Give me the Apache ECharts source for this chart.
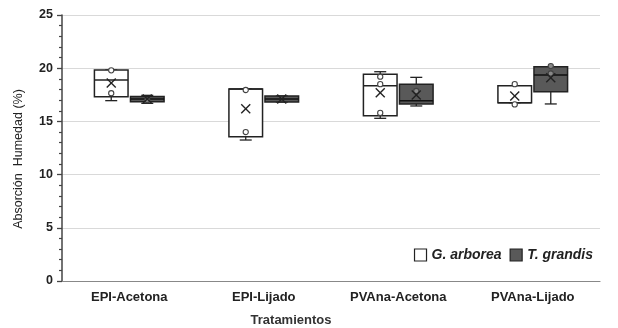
<!DOCTYPE html>
<html>
<head>
<meta charset="utf-8">
<script src="https://cdn.jsdelivr.net/npm/echarts@6/dist/echarts.min.js"></script>
<style>
html,body{margin:0;padding:0;background:#fff;}
#chart{width:618px;height:328px;}
</style>
</head>
<body>
<div id="chart"></div>
<script>
// ---- data ----
var categories = ['EPI-Acetona', 'EPI-Lijado', 'PVAna-Acetona', 'PVAna-Lijado'];
var seriesNames = ['G. arborea', 'T. grandis'];
// [min, Q1, median, Q3, max]
var arboreaBox = [
  [16.95, 17.32, 18.9, 19.83, 19.83],
  [13.25, 13.56, 18.05, 18.05, 18.05],
  [15.29, 15.54, 18.36, 19.43, 19.67],
  [16.76, 16.76, 16.76, 18.36, 18.36]
];
var arboreaMean = [18.6, 16.2, 17.7, 17.39];
var arboreaPoints = [[19.8, 17.65], [17.95, 14.0], [19.2, 18.5, 15.8], [18.5, 16.6]];

var grandisBox = [
  [16.7, 16.85, 17.1, 17.35, 17.45],
  [16.82, 16.82, 17.1, 17.39, 17.39],
  [16.45, 16.64, 16.95, 18.49, 19.14],
  [16.64, 17.79, 19.36, 20.14, 20.14]
];
var grandisMean = [17.1, 17.1, 17.48, 19.1];
var grandisPoints = [[17.0], [], [17.86], [20.2, 19.5]];

var yTicks = [0, 5, 10, 15, 20, 25];

function buildData(box, mean) {
  return box.map(function (b, i) { return [i].concat(b).concat([mean[i]]); });
}

function makeRender(offsetFrac, fill, stroke, medianColor, points, ptFill) {
  return function (params, api) {
    var ci = api.value(0);
    var band = api.size([1, 0])[0];
    var cx = api.coord([ci, 0])[0] + offsetFrac * band;
    var w = band * 0.25;
    var y = function (v) { return api.coord([ci, v])[1]; };
    var yMin = y(api.value(1)), yQ1 = y(api.value(2)), yMed = y(api.value(3)),
        yQ3 = y(api.value(4)), yMax = y(api.value(5)), yMean = y(api.value(6));
    var cap = 6;
    var lineStyle = { stroke: '#222', lineWidth: 1.3 };
    var children = [];
    children.push({ type: 'line', shape: { x1: cx, y1: yQ1, x2: cx, y2: yMin }, style: lineStyle });
    children.push({ type: 'line', shape: { x1: cx - cap, y1: yMin, x2: cx + cap, y2: yMin }, style: lineStyle });
    children.push({ type: 'line', shape: { x1: cx, y1: yQ3, x2: cx, y2: yMax }, style: lineStyle });
    children.push({ type: 'line', shape: { x1: cx - cap, y1: yMax, x2: cx + cap, y2: yMax }, style: lineStyle });
    children.push({ type: 'rect', shape: { x: cx - w / 2, y: yQ3, width: w, height: Math.max(yQ1 - yQ3, 1) },
      style: { fill: fill, stroke: stroke, lineWidth: 1.5 } });
    children.push({ type: 'line', shape: { x1: cx - w / 2, y1: yMed, x2: cx + w / 2, y2: yMed },
      style: { stroke: medianColor, lineWidth: 1.5 } });
    var pts = points[ci] || [];
    pts.forEach(function (p) {
      children.push({ type: 'circle', shape: { cx: cx, cy: y(p), r: 2.6 },
        style: { fill: ptFill, stroke: '#444', lineWidth: 1.1 } });
    });
    var m = 4.5;
    children.push({ type: 'line', shape: { x1: cx - m, y1: yMean - m, x2: cx + m, y2: yMean + m }, style: { stroke: '#222', lineWidth: 1.4 } });
    children.push({ type: 'line', shape: { x1: cx - m, y1: yMean + m, x2: cx + m, y2: yMean - m }, style: { stroke: '#222', lineWidth: 1.4 } });
    return { type: 'group', children: children };
  };
}

var chart = echarts.init(document.getElementById('chart'));
chart.setOption({
  animation: false,
  backgroundColor: '#fff',
  textStyle: { fontFamily: 'Liberation Sans, Arial, sans-serif' },
  grid: { left: 62, right: 18, top: 15, bottom: 47, containLabel: false, outerBoundsMode: 'none' },
  legend: {
    right: 20, top: 243, itemGap: 8, itemWidth: 12, itemHeight: 12,
    textStyle: { fontStyle: 'italic', fontWeight: 'bold', fontSize: 14, color: '#222', fontFamily: 'Liberation Sans, Arial, sans-serif' },
    data: [
      { name: seriesNames[0], icon: 'rect', itemStyle: { color: '#fff', borderColor: '#222', borderWidth: 1.2 } },
      { name: seriesNames[1], icon: 'rect', itemStyle: { color: '#595959', borderColor: '#222', borderWidth: 1.2 } }
    ]
  },
  xAxis: {
    type: 'category',
    data: categories,
    name: 'Tratamientos',
    nameLocation: 'middle',
    nameGap: 33,
    nameTextStyle: { fontWeight: 'bold', fontSize: 13, color: '#333', padding: [0, 80, 0, 0] },
    axisLine: { lineStyle: { color: '#888', width: 1.2 } },
    axisTick: { show: false },
    axisLabel: { fontWeight: 'bold', fontSize: 13, color: '#222', margin: 10 },
    splitLine: { show: false }
  },
  yAxis: {
    type: 'value',
    min: yTicks[0], max: yTicks[yTicks.length - 1], interval: 5,
    name: 'Absorción  Humedad (%)',
    nameLocation: 'middle',
    nameGap: 37,
    nameTextStyle: { fontSize: 12.5, color: '#222', padding: [0, 0, 0, -22] },
    axisLine: { show: true, lineStyle: { color: '#444', width: 1.5 } },
    axisTick: { show: true, length: 5, lineStyle: { color: '#444', width: 1.3 } },
    minorTick: { show: true, splitNumber: 5, length: 3, lineStyle: { color: '#444', width: 1.2 } },
    axisLabel: { fontWeight: 'bold', fontSize: 12.5, color: '#222', margin: 9 },
    splitLine: { show: true, lineStyle: { color: '#d9d9d9', width: 1.2 } }
  },
  series: [
    {
      name: seriesNames[0], type: 'custom',
      itemStyle: { color: '#fff', borderColor: '#222' },
      renderItem: makeRender(-0.134, '#fff', '#222', '#222', arboreaPoints, '#fff'),
      encode: { x: 0, y: [1, 2, 3, 4, 5] },
      data: buildData(arboreaBox, arboreaMean)
    },
    {
      name: seriesNames[1], type: 'custom',
      itemStyle: { color: '#595959', borderColor: '#222' },
      renderItem: makeRender(0.134, '#595959', '#222', '#111', grandisPoints, '#888'),
      encode: { x: 0, y: [1, 2, 3, 4, 5] },
      data: buildData(grandisBox, grandisMean)
    }
  ]
});
</script>
</body>
</html>
